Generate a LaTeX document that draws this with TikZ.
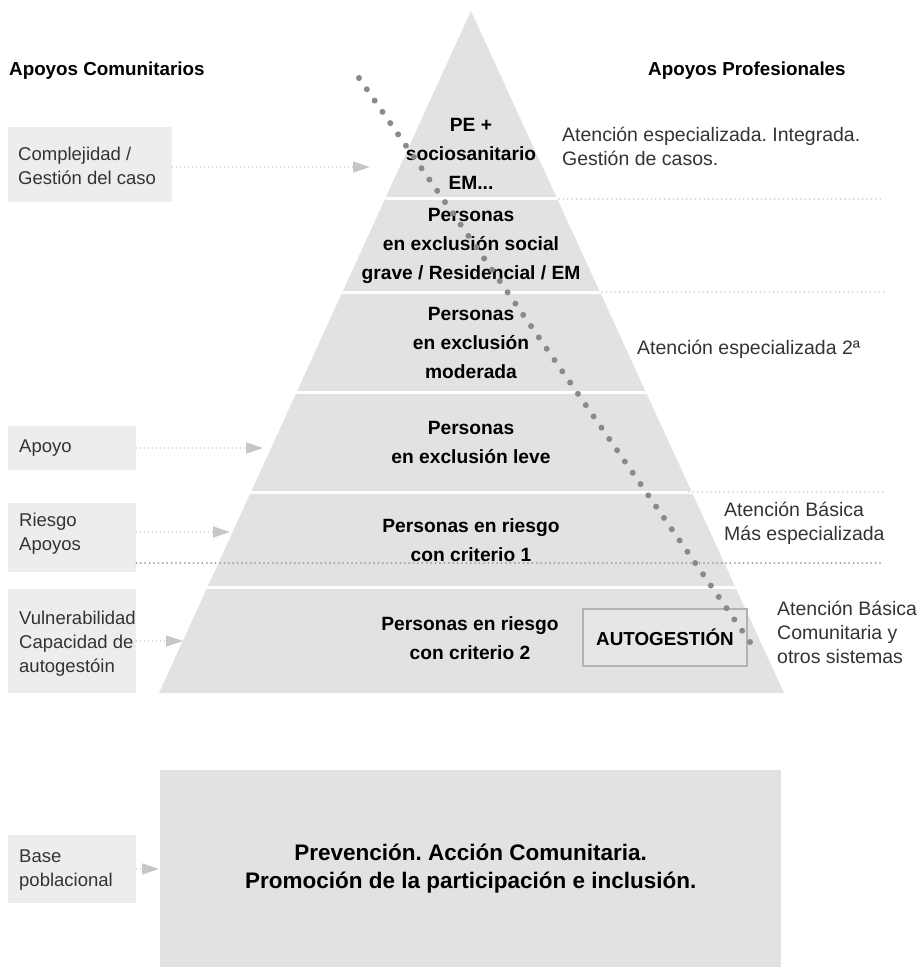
\documentclass[tikz,border=0pt]{standalone}
\usepackage{fontspec}
\setmainfont{Liberation Sans}
\usetikzlibrary{arrows.meta}
\frenchspacing
\definecolor{pyr}{HTML}{E2E2E2}
\definecolor{boxfill}{HTML}{EDEDED}
\definecolor{dotdark}{HTML}{8A8A8A}
\definecolor{dotmid}{HTML}{9A9A9A}
\definecolor{dotlight}{HTML}{CDCDCD}
\definecolor{arrowgray}{HTML}{C6C6C6}
\definecolor{txtgray}{HTML}{333333}
\definecolor{autoborder}{HTML}{B2B2B2}
\definecolor{autofill}{HTML}{E6E6E6}
\begin{document}
\begin{tikzpicture}[x=1pt,y=-1pt,
  sidebox/.style={fill=boxfill, inner sep=0pt, anchor=north west},
  lefttext/.style={font=\fontsize{18.5}{24}\selectfont, text=txtgray, align=left, anchor=west, inner sep=0pt},
  righttext/.style={font=\fontsize{19.5}{24}\selectfont, text=txtgray, align=left, anchor=west, inner sep=0pt},
  tiertext/.style={font=\bfseries\fontsize{19.2}{28.8}\selectfont, align=center, inner sep=0pt},
  headtext/.style={font=\bfseries\fontsize{18.8}{22}\selectfont, anchor=west, inner sep=0pt},
  flow/.style={draw=arrowgray, line width=1.6pt, line cap=round, dash pattern=on 0pt off 4pt,
    -{Triangle[length=17pt,width=11pt,fill=arrowgray,line cap=butt]}},
  lightdots/.style={draw=dotlight, line width=1.8pt, line cap=round, dash pattern=on 0pt off 4.4pt},
  darkdots/.style={draw=dotmid, line width=2pt, line cap=round, dash pattern=on 0pt off 4.4pt},
  sepline/.style={draw=white, line width=3pt},
]
\useasboundingbox (0,0) rectangle (919,967);

% pyramid
\coordinate (apex) at (471,11);
\coordinate (bl) at (159,693);
\coordinate (br) at (784,693);
\fill[pyr] (apex) -- (br) -- (bl) -- cycle;
\begin{scope}
  \clip (apex) -- (br) -- (bl) -- cycle;
  \foreach \yy in {198,292,392,492,587}
    \draw[sepline] (100,\yy) -- (850,\yy);
\end{scope}

% bottom base box
\node[fill=pyr, minimum width=621pt, minimum height=197pt, anchor=north west, inner sep=0pt,
  font=\bfseries\fontsize{22.5}{28}\selectfont, align=center] (base) at (160,770)
  {Prevención. Acción Comunitaria.\\Promoción de la participación e inclusión.};

% left boxes
\node[sidebox, minimum width=164pt, minimum height=75pt] (b1) at (8,127) {};
\node[sidebox, minimum width=128pt, minimum height=44pt] (b2) at (8,426) {};
\node[sidebox, minimum width=128pt, minimum height=69pt] (b3) at (8,503) {};
\node[sidebox, minimum width=128pt, minimum height=104pt] (b4) at (8,589) {};
\node[sidebox, minimum width=128pt, minimum height=68pt] (b5) at (8,835) {};

\node[lefttext] (l1) at (18,166) {Complejidad /\\Gestión del caso};
\node[lefttext] (l2) at (19,448) {Apoyo};
\node[lefttext] (l3) at (19,534) {Riesgo\\Apoyos};
\node[lefttext] (l4) at (19,644) {Vulnerabilidad\\Capacidad de\\autogestóin};
\node[lefttext] (l5) at (19,870) {Base\\poblacional};

% arrows
\coordinate (a1) at (370,167);
\coordinate (a2) at (263,448);
\coordinate (a3) at (230,532);
\coordinate (a4) at (183,641);
\coordinate (a5) at (159,869);
\draw[flow] (b1.east |- a1) -- (a1);
\draw[flow] (b2.east |- a2) -- (a2);
\draw[flow] (b3.east |- a3) -- (a3);
\draw[flow] (b4.east |- a4) -- (a4);
\draw[flow] (b5.east |- a5) -- (a5);

% dotted guide lines
\coordinate (g1a) at (559,199); \coordinate (g1b) at (884,199);
\coordinate (g2a) at (602,292); \coordinate (g2b) at (884,292);
\coordinate (g3a) at (689,492); \coordinate (g3b) at (884,492);
\draw[lightdots] (g1a) -- (g1b);
\draw[lightdots] (g2a) -- (g2b);
\draw[lightdots] (g3a) -- (g3b);
\coordinate (g4b) at (884,563);
\draw[darkdots] (b3.east |- g4b) -- (g4b);

% autogestion box
\node[draw=autoborder, line width=1.5pt, fill=autofill, minimum width=164pt, minimum height=57pt,
  inner sep=0pt, font=\bfseries\fontsize{18.8}{22}\selectfont] (auto) at (665,637.5) {AUTOGESTIÓN};

% headers
\node[headtext] (h1) at (9,71) {Apoyos Comunitarios};
\node[headtext] (h2) at (648,71) {Apoyos Profesionales};

% tier texts
\node[tiertext] (t1) at (471,154) {PE +\\sociosanitario\\EM...};
\node[tiertext] (t2) at (471,246) {Personas\\en exclusión social\\grave / Residencial / EM};
\node[tiertext] (t3) at (471,343) {Personas\\en exclusión\\moderada};
\node[tiertext] (t4) at (471,442.5) {Personas\\en exclusión leve};
\node[tiertext] (t5) at (471,540.5) {Personas en riesgo\\con criterio 1};
\node[tiertext] (t6) at (470,638.5) {Personas en riesgo\\con criterio 2};

% right texts
\node[righttext] (r1) at (562,146.5) {Atención especializada. Integrada.\\Gestión de casos.};
\node[righttext] (r2) at (637,349) {Atención especializada 2ª};
\node[righttext] (r3) at (724,523.5) {Atención Básica\\Más especializada};
\node[righttext] (r4) at (777,632) {Atención Básica\\Comunitaria y\\otros sistemas};

% diagonal dotted line
\foreach \i in {0,...,50}
  \fill[dotdark] ({359+\i*7.82},{78+\i*11.28}) circle (3pt);
\end{tikzpicture}
\end{document}
